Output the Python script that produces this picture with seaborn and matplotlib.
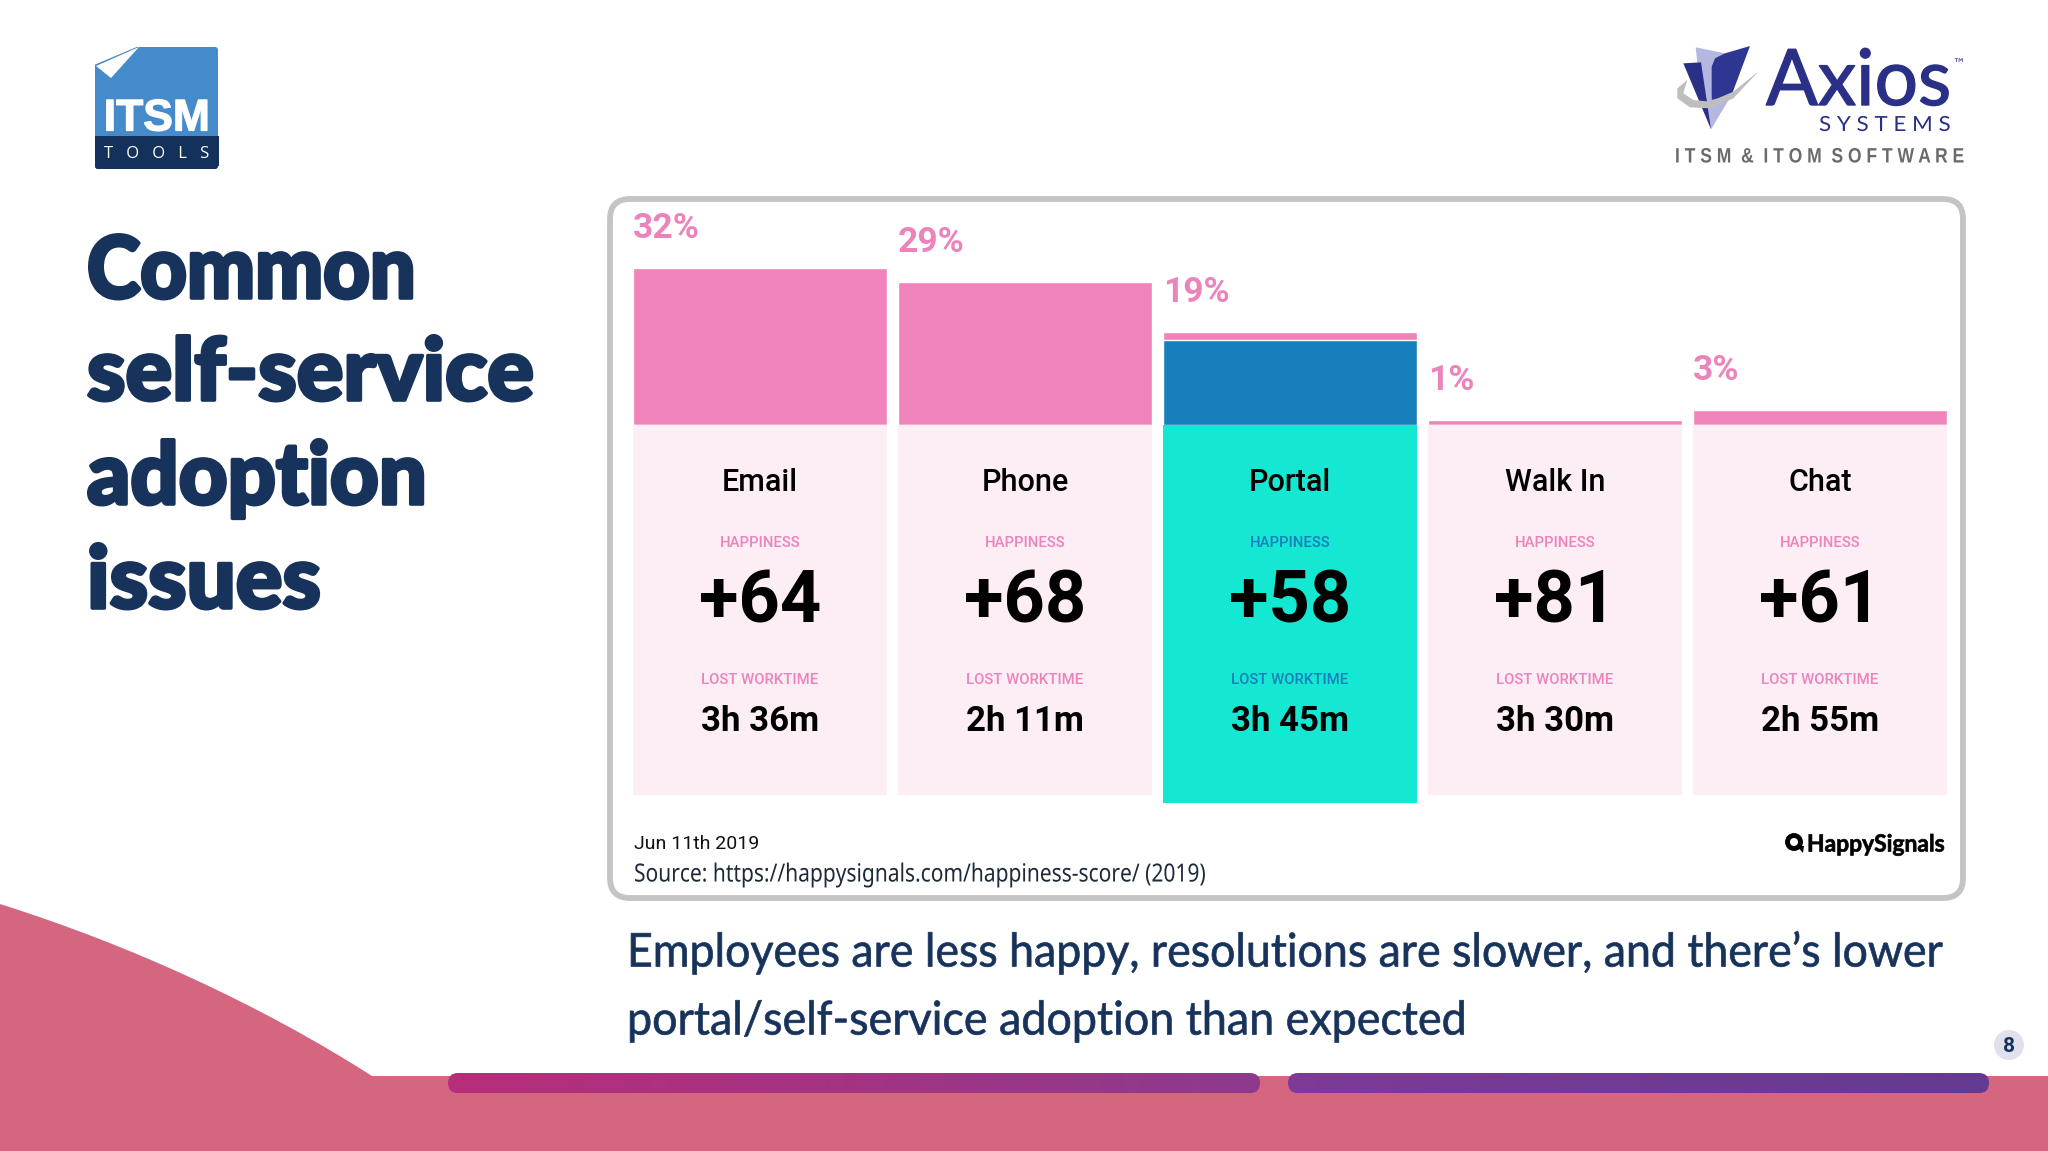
import numpy as np
import pandas as pd
import matplotlib
matplotlib.use("Agg")
import matplotlib.pyplot as plt
import matplotlib.patheffects as pe
from matplotlib.colors import LinearSegmentedColormap
from matplotlib.patches import Rectangle, FancyBboxPatch, Polygon, PathPatch, Circle
from matplotlib.path import Path
from matplotlib.transforms import Affine2D, blended_transform_factory
import seaborn as sns

# ---- data ----
channels = ["Email", "Phone", "Portal", "Walk In", "Chat"]
share_pct = [32, 29, 19, 1, 3]
portal_overlay_pct = [0, 0, 17.3, 0, 0]
share_labels = ["32%", "29%", "19%", "1%", "3%"]
happiness = ["+64", "+68", "+58", "+81", "+61"]
lost_time = ["3h 36m", "2h 11m", "3h 45m", "3h 30m", "2h 55m"]
title_lines = ["Common", "self-service", "adoption", "issues"]
caption_lines = ["Employees are less happy, resolutions are slower, and there\u2019s lower",
                 "portal/self-service adoption than expected"]

# ---- style ----
NAVY = "#17335B"
PINK = "#F083BA"
PINK_TEXT = "#EC84BC"
CARD = "#FDEDF5"
TEAL = "#14E8D2"
BLUE = "#177FBB"
FRAME = "#C4C4C6"
ROSE = "#D5667F"
AX_BLUE = "#2B3087"

sns.set_theme(style="white")
plt.rcParams["font.family"] = ["Roboto", "DejaVu Sans"]

W, H = 2048, 1151
fig = plt.figure(figsize=(W / 100, H / 100), dpi=100, facecolor="white")

bg = fig.add_axes([0, 0, 1, 1], zorder=0)
bg.set_axis_off()


class Condense(pe.AbstractPathEffect):
    """Narrows a text's glyphs about its left anchor, optionally thickening them."""
    def __init__(self, sx, stroke=0):
        super().__init__()
        self.sx = sx
        self.stroke = stroke

    def draw_path(self, renderer, gc, tpath, affine, rgbFace=None):
        x0 = affine.get_matrix()[0, 2]
        t = affine + Affine2D().translate(-x0, 0).scale(self.sx, 1).translate(x0, 0)
        if self.stroke:
            gc0 = renderer.new_gc()
            gc0.copy_properties(gc)
            gc0.set_foreground(rgbFace)
            gc0.set_linewidth(self.stroke)
            gc0.set_joinstyle("round")
            renderer.draw_path(gc0, tpath, t, rgbFace)
            gc0.restore()
        else:
            renderer.draw_path(gc, tpath, t, rgbFace)


def fit(txt, target_px, stroke=0):
    w = txt.get_window_extent(fig.canvas.get_renderer()).width
    txt.set_path_effects([Condense(target_px / w, stroke)])
    return txt


# ---- chart axes, placed so the bars sit on the card tops ----
AX_L, AX_R, AX_TOP, AX_BASE = 627.5, 1952.5, 200, 425
ax = fig.add_axes([AX_L / W, 1 - AX_BASE / H, (AX_R - AX_L) / W, (AX_BASE - AX_TOP) / H], zorder=1)
BAR_W = 0.958

df = pd.DataFrame({"channel": channels, "share": share_pct, "overlay": portal_overlay_pct})
sns.barplot(data=df, x="channel", y="share", order=channels, color=PINK, saturation=1,
            width=BAR_W, ax=ax)
sns.barplot(data=df, x="channel", y="overlay", order=channels, color=BLUE, saturation=1,
            width=BAR_W, ax=ax)
ax.set_xlim(-0.5, 4.5)
ax.set_ylim(0, (AX_BASE - AX_TOP) / 4.92)
ax.set_axis_off()
ax.patch.set_alpha(0)

for i, (v, lab) in enumerate(zip(share_pct, share_labels)):
    ax.annotate(lab, xy=(i - BAR_W / 2, v), xytext=(0, 28.4), textcoords="offset points",
                ha="left", va="center", fontsize=25.5, fontweight="bold", color=PINK_TEXT,
                annotation_clip=False)

# ---- page in pixel coordinates ----
bg.set_xlim(0, W)
bg.set_ylim(H, 0)
blend = blended_transform_factory(ax.transData, bg.transData)

# frame
bg.add_patch(FancyBboxPatch((630, 219), 1313, 659, boxstyle="round,pad=20,rounding_size=20",
                            fc="white", ec=FRAME, lw=4.2, zorder=1))

# cards and their text
for i, ch in enumerate(channels):
    portal = ch == "Portal"
    bottom = 803 if portal else 795
    bg.add_patch(Rectangle((i - BAR_W / 2, 424), BAR_W, bottom - 424, transform=blend,
                           fc=TEAL if portal else CARD, ec="none", zorder=2))
    small = BLUE if portal else PINK_TEXT
    kw = dict(transform=blend, ha="center", va="center", zorder=3)
    bg.text(i, 482.5, ch, fontsize=22, fontweight="medium", color="black", **kw)
    bg.text(i, 543, "HAPPINESS", fontsize=10.7, fontweight="medium", color=small, **kw)
    bg.text(i, 602.5, happiness[i], fontsize=52, fontweight="bold", color="black", **kw)
    bg.text(i, 679.5, "LOST WORKTIME", fontsize=10.7, fontweight="medium", color=small, **kw)
    bg.text(i, 721.5, lost_time[i], fontsize=25, fontweight="bold", color="black", **kw)

# chart footer
bg.text(634, 843.5, "Jun 11th 2019", fontsize=14, color="#111111", va="center", zorder=3)
fit(bg.text(634, 875, "Source: https://happysignals.com/happiness-score/ (2019)",
            family=["Noto Sans", "DejaVu Sans"], fontweight="light", fontsize=18,
            color="#1D2A3A", va="center", zorder=3), 571)
bg.add_patch(Circle((1794, 842), 6.5, fc="none", ec="black", lw=3.5, zorder=3))
bg.add_patch(Polygon([(1797, 846), (1804, 846), (1803, 853)], fc="black", ec="none", zorder=3))
fit(bg.text(1807, 844, "HappySignals", family=["Lato", "DejaVu Sans"], fontweight="bold",
            fontsize=17, color="black", va="center", zorder=3), 138, stroke=0.5)

# title and caption
for line, base, wpx in zip(title_lines, [298, 400, 504, 608], [329, 447, 340, 234]):
    fit(bg.text(87, base, line, family=["Lato", "Open Sans", "DejaVu Sans"], fontweight="black",
                fontsize=62, color=NAVY, va="baseline", zorder=3), wpx, stroke=2.6)
for line, base, wpx in zip(caption_lines, [966.5, 1034.5], [1313, 838]):
    fit(bg.text(627, base, line, family=["Lato", "DejaVu Sans"], fontsize=33.5,
                color=NAVY, va="baseline", zorder=3), wpx, stroke=0.5)

# bottom band
verts = [(0, 904), (130, 945), (261, 1005), (372, 1076), (2048, 1076), (2048, 1151), (0, 1151), (0, 904)]
codes = [Path.MOVETO, Path.CURVE4, Path.CURVE4, Path.CURVE4, Path.LINETO, Path.LINETO, Path.LINETO, Path.CLOSEPOLY]
bg.add_patch(PathPatch(Path(verts, codes), fc=ROSE, ec="none", zorder=1))

for (x0, x1, c0, c1) in [(448, 1260, "#B72E7B", "#8E3A8C"), (1288, 1989, "#7E3A98", "#643A90")]:
    clip = FancyBboxPatch((x0 + 10, 1083), x1 - x0 - 20, 0.1, boxstyle="round,pad=10,rounding_size=10",
                          fc="none", ec="none", zorder=2)
    bg.add_patch(clip)
    im = bg.imshow(np.linspace(0, 1, 256)[None, :], extent=(x0, x1, 1093, 1073), aspect="auto",
                   cmap=LinearSegmentedColormap.from_list("g", [c0, c1]), zorder=2)
    im.set_clip_path(clip)
bg.set_xlim(0, W)
bg.set_ylim(H, 0)

# page number
bg.add_patch(Circle((2009, 1045), 15, fc="#E0E0EF", ec="none", zorder=3))
bg.text(2009, 1046, "8", fontsize=15, fontweight="bold", color=NAVY, ha="center", va="center", zorder=4)

# ITSM Tools logo
bg.add_patch(FancyBboxPatch((97, 49), 119, 118, boxstyle="round,pad=2,rounding_size=3",
                            fc="#458BCB", ec="none", zorder=2))
bg.add_patch(Rectangle((95, 136), 123.5, 30, fc="#14315C", ec="none", zorder=2))
bg.add_patch(FancyBboxPatch((97, 150), 119, 17, boxstyle="round,pad=2,rounding_size=3",
                            fc="#14315C", ec="none", zorder=2))
bg.add_patch(Polygon([(94, 46), (139, 46), (94, 65)], fc="white", ec="none", zorder=3))
bg.add_patch(Polygon([(96, 66), (139, 47), (111, 78)], fc="white", ec="none", zorder=3))
bg.text(157, 119, "ITSM", family=["Liberation Sans", "DejaVu Sans"], fontweight="bold", fontsize=32,
        color="white", ha="center", va="center", zorder=4,
        path_effects=[pe.withStroke(linewidth=0.9, foreground="white")])
bg.text(157, 153.5, "T   O   O   L   S", family=["Open Sans", "DejaVu Sans"], fontsize=12,
        color="white", ha="center", va="center", zorder=4)


# Axios logo
def ax_pts(pts):
    return [(1600 + x / 3, 20 + y / 3) for x, y in pts]


bg.add_patch(Polygon(ax_pts([(287, 82), (375, 100), (340, 130), (335, 240), (395, 225), (333, 328), (300, 200)]),
                     fc="#B4B7E0", ec="none", zorder=2))
bg.add_patch(Polygon(ax_pts([(250, 130), (303, 127), (320, 240), (333, 328)]), fc="#2B3087", ec="none", zorder=3))
bg.add_patch(Polygon(ax_pts([(450, 78), (375, 100), (345, 115), (335, 140), (335, 240), (395, 225)]),
                     fc="#2F3691", ec="none", zorder=3))
bg.add_patch(Polygon(ax_pts([(262, 180), (232, 205), (232, 235), (270, 262), (330, 265), (400, 235), (478, 152),
                             (400, 215), (330, 245), (280, 240), (250, 220)]),
                     fc="#BDBEC0", ec="none", zorder=4))
fit(bg.text(1766, 105, "Axios", family=["Lato", "DejaVu Sans"], fontsize=56, color=AX_BLUE,
            va="baseline", zorder=3), 185, stroke=1.0)
bg.text(1952, 64, "\u2122", family=["DejaVu Sans"], fontsize=9, color=AX_BLUE, va="center", zorder=3)
fit(bg.text(1819, 125, "S Y S T E M S", family=["Lato", "DejaVu Sans"], fontsize=15, color=AX_BLUE,
            va="center", zorder=3), 132)
fit(bg.text(1675, 157, "I T S M  &  I T O M  S O F T W A R E", family=["Liberation Sans", "DejaVu Sans"],
            fontweight="bold", fontsize=15, color="#6B6B6B", va="center", zorder=3), 289)

fig.savefig("out.png", dpi=100)
